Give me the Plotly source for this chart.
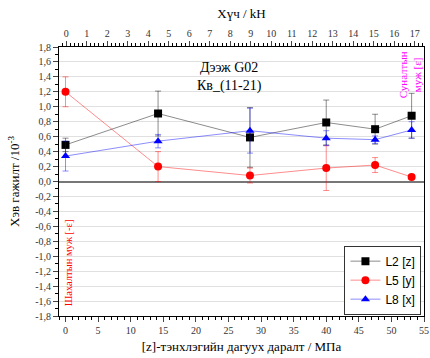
import plotly.graph_objects as go

pressure = [0, 14.2, 28.3, 40.0, 47.5, 53.1]
l2 = [0.49, 0.91, 0.59, 0.79, 0.70, 0.88]
l2_err = [0.09, 0.30, 0.40, 0.30, 0.20, 0.30]
l5 = [1.20, 0.20, 0.08, 0.18, 0.22, 0.06]
l5_err = [0.20, 0.20, 0.10, 0.30, 0.10, 0.03]
l8 = [0.34, 0.54, 0.68, 0.58, 0.56, 0.69]
l8_err = [0.20, 0.09, 0.30, 0.10, 0.05, 0.11]

yticks = [-1.8 + 0.2 * i for i in range(19)]
ytext = [("%.1f" % v).replace(".", ",").replace("-0,0", "0,0") for v in yticks]
xticks = list(range(0, 56, 5))
topticks = list(range(0, 18))

serif = "Liberation Serif"

fig = go.Figure()

series = [
    ("L2 [z]", l2, l2_err, "black", "rgba(0,0,0,0.45)", "square"),
    ("L5 [y]", l5, l5_err, "red", "rgba(255,0,0,0.45)", "circle"),
    ("L8 [x]", l8, l8_err, "blue", "rgba(0,0,255,0.45)", "triangle-up"),
]
for name, ys, es, col, lcol, sym in series:
    fig.add_trace(go.Scatter(
        x=pressure, y=ys, name=name, mode="lines+markers",
        line=dict(color=lcol, width=1),
        marker=dict(color=col, symbol=sym, size=8),
        error_y=dict(type="data", array=es, color=lcol, thickness=1, width=3),
    ))

# invisible trace for top axis
fig.add_trace(go.Scatter(x=[0, 17], y=[0, 0], xaxis="x2", mode="markers",
                         marker=dict(opacity=0), showlegend=False, hoverinfo="skip"))

fig.update_layout(
    width=430, height=358,
    margin=dict(l=59, r=6, t=47, b=42, autoexpand=False),
    paper_bgcolor="white", plot_bgcolor="white",
    font=dict(family=serif, size=10, color="black"),
    showlegend=True,
    legend=dict(x=0.993, y=0.005, xanchor="right", yanchor="bottom",
                bordercolor="#333", borderwidth=1, bgcolor="white",
                font=dict(family="Liberation Sans", size=12),
                tracegroupgap=0, itemwidth=30),
    xaxis=dict(range=[-1, 55], tickvals=xticks, ticks="outside", ticklen=5,
               minor=dict(dtick=1, ticks="outside", ticklen=3, tickcolor="black"),
               showline=True, linecolor="black", linewidth=1, mirror=False,
               showgrid=False, zeroline=False, automargin=False,
               tickfont=dict(family=serif, size=10, color="#333"),
               title=dict(text="[z]-тэнхлэгийн дагуух даралт / МПа",
                          font=dict(family=serif, size=13), standoff=6)),
    xaxis2=dict(overlaying="x", side="top", range=[-0.35, 17.45],
                tickvals=topticks, ticks="outside", ticklen=5,
                minor=dict(dtick=0.2, ticks="outside", ticklen=3, tickcolor="black"),
                showline=True, linecolor="black", linewidth=1,
                showgrid=False, zeroline=False, automargin=False,
                tickfont=dict(family=serif, size=10, color="#333"),
                title=dict(text="Хүч / kH", font=dict(family=serif, size=13), standoff=6)),
    yaxis=dict(range=[-1.8, 1.8], tickvals=yticks, ticktext=ytext,
               ticks="outside", ticklen=5,
               minor=dict(dtick=0.1, ticks="outside", ticklen=3, tickcolor="black"),
               showline=True, linecolor="black", linewidth=1, mirror=True,
               showgrid=True, gridcolor="#e0e0e0", gridwidth=1,
               zeroline=True, zerolinecolor="#777", zerolinewidth=2,
               automargin=False,
               tickfont=dict(family=serif, size=10, color="#333"),
               title=dict(text="Хэв гажилт /10<sup>-3</sup>",
                          font=dict(family=serif, size=13), standoff=12)),
)

fig.add_annotation(x=0.468, y=0.89, xref="paper", yref="paper", showarrow=False,
                   text="Дээж G02<br>Кв_(11-21)", align="center",
                   xanchor="center", yanchor="middle",
                   font=dict(family=serif, size=14, color="black"))
fig.add_annotation(x=0.962, y=0.99, xref="paper", yref="paper", showarrow=False,
                   xanchor="center", yanchor="top", text="Суналтын<br>муж [ε]", textangle=-90,
                   font=dict(family=serif, size=11, color="magenta"))
fig.add_annotation(x=0.027, y=0.03, xref="paper", yref="paper", showarrow=False,
                   xanchor="center", yanchor="bottom", text="Шахалтын муж [-ε]", textangle=-90,
                   font=dict(family=serif, size=10.5, color="red"))

fig.write_html("out.html", config={"displayModeBar": False},
               post_script="document.body.style.margin='0';document.body.style.overflow='hidden';")
